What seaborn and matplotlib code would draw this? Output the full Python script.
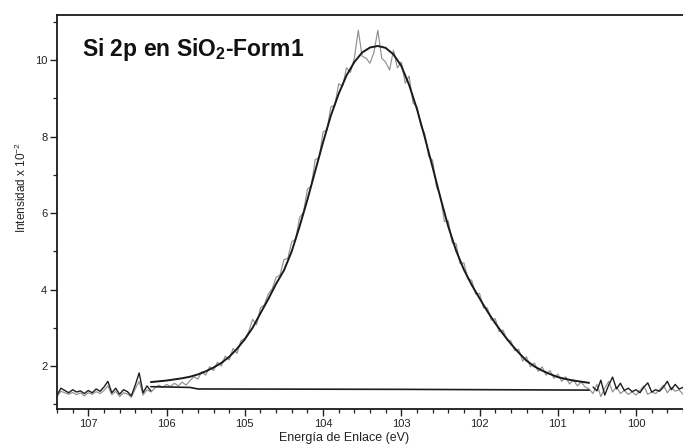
import numpy as np
import pandas as pd
import matplotlib
matplotlib.use("Agg")
import matplotlib.pyplot as plt
from matplotlib.ticker import MultipleLocator
import seaborn as sns

# ---------------- data ----------------
# measurement grid of the spectrum, 0.05 eV steps from 107.40 to 99.40 eV
energy = np.round(np.arange(107.40, 99.35, -0.05), 2)

# gray measured spectrum (whole range)
gray_left = [1.20, 1.34, 1.30, 1.26, 1.31, 1.25, 1.30, 1.22, 1.30, 1.26, 1.33, 1.28, 1.36,
             1.48, 1.25, 1.34, 1.20, 1.30, 1.27, 1.18, 1.40, 1.60, 1.24, 1.38, 1.32]
gray_peak = [1.42, 1.50, 1.44, 1.52, 1.46, 1.55, 1.48, 1.58, 1.50, 1.62,
             1.72, 1.66, 1.85, 1.76, 1.98, 1.88, 2.10, 2.00, 2.26, 2.16,
             2.46, 2.33, 2.66, 2.72, 2.90, 3.22, 3.08, 3.52, 3.60, 3.88,
             4.02, 4.32, 4.38, 4.78, 4.82, 5.25, 5.32, 5.88, 6.02, 6.62,
             6.72, 7.40, 7.45, 8.12, 8.18, 8.78, 8.82, 9.38, 9.32, 9.80,
             9.68, 10.05, 10.78, 10.10, 10.05, 9.92, 10.20, 10.78, 10.05, 9.95,
             9.74, 10.26, 9.80, 9.95, 9.40, 9.58, 8.88, 8.78, 8.28, 8.08,
             7.48, 7.38, 6.68, 6.45, 5.78, 5.80, 5.22, 5.20, 4.68, 4.70,
             4.28, 4.24, 3.88, 3.90, 3.52, 3.52, 3.20, 3.24, 2.90, 2.94,
             2.68, 2.66, 2.40, 2.44, 2.13, 2.24, 1.98, 2.08, 1.86, 1.98,
             1.76, 1.88, 1.68, 1.79, 1.60, 1.72, 1.53, 1.64, 1.48, 1.58,
             1.45]
gray_right = [1.40, 1.28, 1.52, 1.20, 1.42, 1.60, 1.32, 1.46, 1.28, 1.36, 1.26, 1.32, 1.24,
              1.36, 1.48, 1.26, 1.32, 1.28, 1.38, 1.50, 1.30, 1.44, 1.34, 1.38, 1.26]

# black measured spectrum outside the fitted window
black_left = [1.24, 1.42, 1.36, 1.30, 1.38, 1.32, 1.35, 1.28, 1.36, 1.30, 1.40, 1.34, 1.45,
              1.60, 1.30, 1.42, 1.26, 1.38, 1.33, 1.22, 1.50, 1.82, 1.30, 1.48, 1.35]
black_right = [1.45, 1.35, 1.63, 1.24, 1.50, 1.71, 1.40, 1.55, 1.36, 1.42, 1.33, 1.38, 1.30,
               1.45, 1.56, 1.32, 1.38, 1.34, 1.45, 1.60, 1.38, 1.52, 1.40, 1.44, 1.30]

# fitted envelope, 0.1 eV steps from 106.2 to 100.6 eV
fit_energy = np.round(np.arange(106.2, 100.55, -0.1), 1)
fit_values = [1.58, 1.60, 1.62, 1.65, 1.68, 1.72, 1.78, 1.86, 1.96, 2.08,
              2.24, 2.45, 2.70, 3.00, 3.38, 3.75, 4.15, 4.50, 5.00, 5.65,
              6.35, 7.10, 7.85, 8.55, 9.12, 9.60, 9.95, 10.20, 10.33, 10.37,
              10.32, 10.15, 9.85, 9.35, 8.72, 7.98, 7.20, 6.40, 5.65, 5.02,
              4.52, 4.12, 3.77, 3.43, 3.12, 2.84, 2.58, 2.35, 2.14, 1.99,
              1.88, 1.79, 1.71, 1.66, 1.62, 1.59, 1.56]

# background line
bg_energy = [106.2, 105.7, 105.6, 103.0, 100.6]
bg_values = [1.46, 1.44, 1.40, 1.39, 1.37]

title_text = "Si 2p en SiO$_2$-Form1"
xlabel_text = "Energía de Enlace (eV)"
ylabel_text = "Intensidad x 10$^{-2}$"
xtick_major = [107, 106, 105, 104, 103, 102, 101, 100]
ytick_major = [2, 4, 6, 8, 10]

# ---------------- tables ----------------
gray_vals = gray_left + gray_peak + gray_right
df_gray = pd.DataFrame({"E": energy[:len(gray_vals)], "I": gray_vals})
n_left = len(black_left)
n_right = len(black_right)
df_black_l = pd.DataFrame({"E": energy[:n_left], "I": black_left})
df_black_r = pd.DataFrame({"E": energy[-n_right:], "I": black_right})
df_fit = pd.DataFrame({"E": fit_energy, "I": fit_values})
df_bg = pd.DataFrame({"E": bg_energy, "I": bg_values})

# ---------------- plot ----------------
sns.set_style("ticks")
plt.rcParams["font.family"] = ["Liberation Sans", "DejaVu Sans"]
plt.rcParams["mathtext.default"] = "regular"

fig = plt.figure(figsize=(6.83, 4.48), dpi=100)
ax = fig.add_axes([57 / 683, 1 - 409 / 448, 626 / 683, (409 - 15) / 448])

sns.lineplot(data=df_gray, x="E", y="I", ax=ax, sort=False, color="#909090", lw=0.85)
sns.lineplot(data=df_bg, x="E", y="I", ax=ax, sort=False, color="#1e1e1e", lw=1.2)
sns.lineplot(data=df_black_l, x="E", y="I", ax=ax, sort=False, color="#1e1e1e", lw=1.0)
sns.lineplot(data=df_black_r, x="E", y="I", ax=ax, sort=False, color="#1e1e1e", lw=1.0)
sns.lineplot(data=df_fit, x="E", y="I", ax=ax, sort=False, color="#1a1a1a", lw=1.4)

ax.set_xlim(107.40, 99.40)
ax.set_ylim(0.876, 11.18)
ax.set_xticks(xtick_major)
ax.xaxis.set_minor_locator(MultipleLocator(0.2))
ax.set_yticks(ytick_major)
ax.yaxis.set_minor_locator(MultipleLocator(1))
ax.tick_params(axis="both", which="major", direction="out", length=5, width=1.0,
               labelsize=8, colors="#222222", pad=2)
ax.tick_params(axis="both", which="minor", direction="out", length=3, width=0.9,
               colors="#222222")

for side in ["left", "bottom", "top"]:
    ax.spines[side].set_visible(True)
    ax.spines[side].set_linewidth(1.3)
    ax.spines[side].set_color("#1a1a1a")
ax.spines["right"].set_visible(False)

ax.set_xlabel(xlabel_text, fontsize=9, color="#222222")
ax.set_ylabel(ylabel_text, fontsize=8.5, color="#222222")
ax.xaxis.set_label_coords(0.458, -0.058)
ax.yaxis.set_label_coords(-0.044, 0.561)

ax.text(0.04, 0.912, title_text, transform=ax.transAxes, fontsize=16.5,
        fontweight="bold", color="#111111", ha="left", va="center")

fig.savefig("out.png", dpi=100, facecolor="white")
